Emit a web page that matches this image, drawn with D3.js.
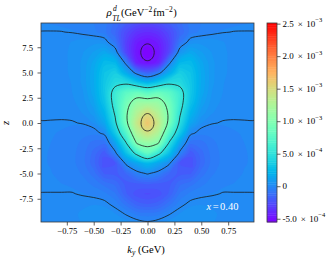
<!DOCTYPE html>
<html lang="en">
<head>
<meta charset="UTF-8">
<title>rho_TL^d density</title>
<style>
  body { margin: 0; background: #fff; }
  svg text { font-family: "Liberation Serif", "Times New Roman", serif; fill: #000; }
</style>
</head>
<body>
<svg id="chart" width="335" height="260"></svg>
<script src="https://cdn.jsdelivr.net/npm/d3@7"></script>
<script>

// grid, ky >= 0 half only (the map is mirror symmetric in ky)
// values in units of 1e-4 GeV^-2 fm^-2
var kyHalf = [0, 0.1, 0.2, 0.3, 0.4, 0.5, 0.6, 0.7, 0.8, 0.9, 1.0];
var zRows = [10, 9, 8, 7, 6, 5, 4, 3, 2, 1, 0, -1, -2, -3, -4, -5, -6, -7, -8, -9, -10];
var rhoRows = [
  [-2.5, -2.3, -1.8, -1.2, -0.6, -0.4, -0.3, -0.2, -0.12, -0.08, -0.05],
  [-3.8, -3.5, -2.6, -1.4, -0.6, -0.3, -0.15, -0.02, 0.01, 0.01, 0.005],
  [-4.9, -4.4, -3.0, -0.8, 0.4, 0.5, 0.5, 0.3, 0.15, 0.08, 0.04],
  [-5.5, -4.7, -2.8, 0.6, 1.5, 1.0, 0.6, 0.35, 0.18, 0.09, 0.045],
  [-4.9, -4.3, -0.4, 2.3, 2.5, 1.4, 0.7, 0.35, 0.18, 0.09, 0.045],
  [-1.7, -0.56, 1.6, 3.6, 3.0, 1.6, 0.7, 0.35, 0.17, 0.08, 0.04],
  [2.2, 3.2, 4.5, 4.4, 3.2, 1.6, 0.7, 0.3, 0.15, 0.07, 0.035],
  [7.8, 8.6, 7.8, 5.9, 3.2, 1.5, 0.6, 0.28, 0.13, 0.06, 0.03],
  [11.5, 11.3, 9.0, 5.9, 2.9, 1.2, 0.45, 0.2, 0.1, 0.05, 0.025],
  [14.9, 12.8, 9.6, 5.3, 2.2, 0.8, 0.3, 0.1, 0.04, 0.025, 0.012],
  [16.5, 14.0, 9.3, 4.6, 1.4, 0.3, 0.03, -0.03, -0.02, -0.01, -0.005],
  [14.6, 12.6, 7.2, 3.3, 0.2, -0.3, -0.3, -0.15, -0.08, -0.04, -0.02],
  [11.0, 10.1, 4.8, 1.2, -1.0, -0.9, -0.5, -0.25, -0.13, -0.06, -0.03],
  [8.1, 5.6, 2.8, -0.3, -2.0, -1.2, -0.6, -0.3, -0.15, -0.07, -0.035],
  [2.3, 1.3, 0.2, -2.1, -2.3, -1.3, -0.6, -0.3, -0.15, -0.07, -0.035],
  [0.1, -0.4, -1.4, -1.9, -1.8, -0.9, -0.45, -0.22, -0.11, -0.05, -0.025],
  [-1.7, -1.8, -1.9, -1.2, -0.9, -0.5, -0.25, -0.12, -0.06, -0.03, -0.015],
  [-2.5, -2.3, -1.7, -0.7, -0.3, -0.15, -0.05, 0.02, 0.01, 0.005, 0.002],
  [-1.8, -1.6, -0.9, -0.2, 0.15, 0.25, 0.2, 0.15, 0.07, 0.04, 0.02],
  [-0.6, -0.5, -0.05, 0.3, 0.6, 0.5, 0.35, 0.2, 0.1, 0.05, 0.025],
  [0.2, 0.4, 0.5, 0.5, 0.5, 0.4, 0.3, 0.15, 0.08, 0.04, 0.02]
];

var xTicks = [-0.75, -0.5, -0.25, 0, 0.25, 0.5, 0.75];
var zTicks = [-7.5, -5, -2.5, 0, 2.5, 5, 7.5];
var cbTicks = [-5e-4, 0, 5e-4, 1e-3, 1.5e-3, 2e-3, 2.5e-3];
var cbMantissa = ["-5.0", "0", "5.0", "1.0", "1.5", "2.0", "2.5"];
var cbExponent = ["\u22124", null, "\u22124", "\u22123", "\u22123", "\u22123", "\u22123"];
var lineLevels = [-5e-4, 0, 5e-4, 1e-3, 1.5e-3];
var colorMin = -5.5e-4, colorMax = 2.51e-3;
var xLabel = "x=0.40";

var svg = d3.select("#chart");
var pLeft = 41, pRight = 254, pTop = 23, pBottom = 222;

var x = d3.scaleLinear().domain([-0.99, 0.99]).range([pLeft, pRight]);
var y = d3.scaleLinear().domain([-9.8, 9.9]).range([pBottom, pTop]);

// full grid, mirrored in ky
var kyFull = kyHalf.slice(1).reverse().map(function(d) { return -d; }).concat(kyHalf);
var nx = kyFull.length, ny = zRows.length;
var values = [];
rhoRows.forEach(function(row) {
  var full = row.slice(1).reverse().concat(row);
  full.forEach(function(v) { values.push(v * 1e-4); });
});

// contour coords -> data coords (d3.contours puts sample i at i + 0.5)
var kyAt = d3.scaleLinear().domain([0, nx - 1]).range([kyFull[0], kyFull[nx - 1]]);
var zAt = d3.scaleLinear().domain([0, ny - 1]).range([zRows[0], zRows[ny - 1]]);

function px(p) { return x(kyAt(p[0] - 0.5)); }
function py(p) { return y(zAt(p[1] - 0.5)); }
var ringLine = d3.line().x(px).y(py).curve(d3.curveCatmullRomClosed.alpha(0.5));
// tiny loops (a single grid sample inside) only have 4 points: round them off
var loopLine = d3.line().x(px).y(py).curve(d3.curveCardinalClosed.tension(-0.62));

function contourPath(c) {
  var s = "";
  c.coordinates.forEach(function(poly) {
    poly.forEach(function(ring) {
      var pts = ring.slice(0, -1);
      s += (pts.length <= 5 ? loopLine : ringLine)(pts);
    });
  });
  return s;
}

// matplotlib "rainbow"
function rainbow(t) {
  t = Math.max(0, Math.min(1, t));
  var r = Math.min(1, Math.abs(2 * t - 0.5));
  var g = Math.sin(Math.PI * t);
  var b = Math.cos(Math.PI * t / 2);
  return d3.rgb(r * 255, g * 255, b * 255).toString();
}
var cnorm = d3.scaleLinear().domain([colorMin, colorMax]).range([0, 1]);
function color(v) { return rainbow(cnorm(v)); }

var nLev = 90;
var fillLevels = d3.range(nLev + 1).map(function(k) { return colorMin + k * (colorMax - colorMin) / nLev; });

svg.append("clipPath").attr("id", "plotclip")
  .append("rect").attr("x", pLeft).attr("y", pTop)
  .attr("width", pRight - pLeft).attr("height", pBottom - pTop);

var plot = svg.append("g").attr("clip-path", "url(#plotclip)");

plot.append("rect")
  .attr("x", pLeft).attr("y", pTop)
  .attr("width", pRight - pLeft).attr("height", pBottom - pTop)
  .attr("fill", color((fillLevels[0] + fillLevels[1]) / 2));

var contours = d3.contours().size([nx, ny]);

var bands = contours.thresholds(fillLevels.slice(1, nLev))(values);
plot.selectAll("path.band")
  .data(bands)
  .join("path")
  .attr("class", "band")
  .attr("d", contourPath)
  .attr("fill", function(d, i) { return color((fillLevels[i + 1] + fillLevels[i + 2]) / 2); })
  .attr("fill-rule", "evenodd");

var lines = contours.thresholds(lineLevels)(values);
plot.selectAll("path.cline")
  .data(lines)
  .join("path")
  .attr("class", "cline")
  .attr("d", contourPath)
  .attr("fill", "none")
  .attr("stroke", "#1a1a1a")
  .attr("stroke-opacity", 0.88)
  .attr("stroke-width", 0.9);

// frame
svg.append("rect")
  .attr("x", pLeft).attr("y", pTop)
  .attr("width", pRight - pLeft).attr("height", pBottom - pTop)
  .attr("fill", "none").attr("stroke", "#3a3a3a").attr("stroke-width", 0.8);

// axes
var xAxis = svg.append("g")
  .attr("transform", "translate(0," + pBottom + ")")
  .call(d3.axisBottom(x).tickValues(xTicks).tickFormat(d3.format(".2f")).tickSize(3.5).tickPadding(2));
var yAxis = svg.append("g")
  .attr("transform", "translate(" + pLeft + ",0)")
  .call(d3.axisLeft(y).tickValues(zTicks).tickFormat(function(d) { return d.toFixed(1); }).tickSize(3.5).tickPadding(4.5));
[xAxis, yAxis].forEach(function(a) {
  a.select(".domain").remove();
  a.selectAll("line").attr("stroke", "#3a3a3a").attr("stroke-width", 0.8);
  a.selectAll("text").attr("font-family", "Liberation Serif, serif").attr("font-size", 8.6).attr("fill", "#000");
});

// annotation
var ann = svg.append("text")
  .attr("x", 206.5).attr("y", 209.5)
  .attr("font-size", 10.5)
  .style("fill", "#fff");
ann.append("tspan").attr("font-style", "italic").text(xLabel.split("=")[0]);
ann.append("tspan").attr("dx", 1.5).text("=");
ann.append("tspan").attr("dx", 1.5).text(xLabel.split("=")[1]);

// title
var title = svg.append("text").attr("font-size", 10.5);
title.append("tspan").attr("x", 106.5).attr("y", 16).attr("font-style", "italic").attr("font-size", 11).text("\u03c1");
title.append("tspan").attr("x", 113).attr("y", 10.5).attr("font-style", "italic").attr("font-size", 7.5).text("d");
title.append("tspan").attr("x", 112.3).attr("y", 21).attr("font-style", "italic").attr("font-size", 7.5).text("TL");
title.append("tspan").attr("x", 121).attr("y", 16).text("(GeV");
title.append("tspan").attr("y", 11.5).attr("font-size", 7.5).text("\u22122");
title.append("tspan").attr("y", 16).attr("dx", 0.8).text("fm");
title.append("tspan").attr("y", 11.5).attr("font-size", 7.5).text("\u22122");
title.append("tspan").attr("y", 16).attr("dx", 0.5).text(")");

// axis labels
var xl = svg.append("text").attr("x", 146).attr("y", 252.5).attr("text-anchor", "middle").attr("font-size", 10.5);
xl.append("tspan").attr("font-style", "italic").text("k");
xl.append("tspan").attr("font-style", "italic").attr("font-size", 7.5).attr("dy", 2.5).text("y");
xl.append("tspan").attr("dy", -2.5).text(" (GeV)");

svg.append("text")
  .attr("transform", "translate(9,123) rotate(-90)")
  .attr("text-anchor", "middle")
  .attr("font-size", 10.5)
  .attr("font-style", "italic")
  .text("z");

// colorbar
var cbLeft = 267, cbRight = 277;
var cy = d3.scaleLinear().domain([colorMin, colorMax]).range([pBottom, pTop]);
var cb = svg.append("g");
cb.selectAll("rect.cbband")
  .data(d3.range(nLev))
  .join("rect")
  .attr("class", "cbband")
  .attr("x", cbLeft)
  .attr("width", cbRight - cbLeft)
  .attr("y", function(k) { return cy(fillLevels[k + 1]); })
  .attr("height", function(k) { return cy(fillLevels[k]) - cy(fillLevels[k + 1]) + 0.4; })
  .attr("fill", function(k) { return color((fillLevels[k] + fillLevels[k + 1]) / 2); });
cb.append("rect")
  .attr("x", cbLeft).attr("y", pTop)
  .attr("width", cbRight - cbLeft).attr("height", pBottom - pTop)
  .attr("fill", "none").attr("stroke", "#3a3a3a").attr("stroke-width", 0.8);

var cbAxis = svg.append("g")
  .attr("transform", "translate(" + cbRight + ",0)")
  .call(d3.axisRight(cy).tickValues(cbTicks).tickFormat("").tickSize(3.5));
cbAxis.select(".domain").remove();
cbAxis.selectAll("line").attr("stroke", "#3a3a3a").attr("stroke-width", 0.8);

cbTicks.forEach(function(v, i) {
  var t = svg.append("text")
    .attr("x", cbRight + 5.5)
    .attr("y", cy(v) + 3)
    .attr("font-size", 9);
  t.append("tspan").text(cbMantissa[i]);
  if (cbExponent[i]) {
    t.append("tspan").attr("dx", 4).text("\u00d7");
    t.append("tspan").attr("dx", 3.5).text("10");
    t.append("tspan").attr("dy", -4.5).attr("font-size", 6.5).text(cbExponent[i]);
  }
});

</script>
</body>
</html>
